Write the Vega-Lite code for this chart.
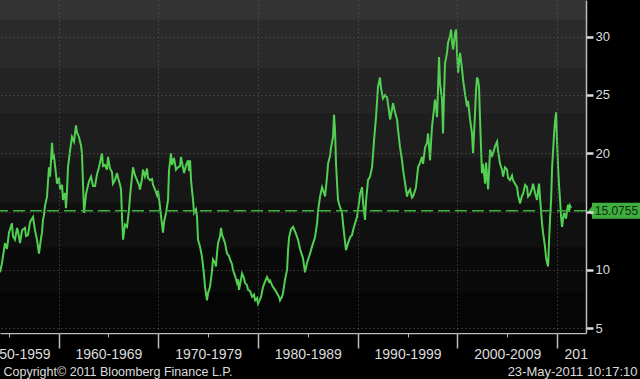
{
  "$schema": "https://vega.github.io/schema/vega-lite/v6.json",
  "width": 586,
  "height": 333,
  "autosize": {"type": "none"},
  "padding": {"left": 0, "top": 0, "right": 54, "bottom": 46},
  "background": "#000000",
  "config": {
    "view": {"stroke": null},
    "font": "Liberation Sans",
    "axis": {"labelFont": "Liberation Sans", "titleFont": "Liberation Sans"}
  },
  "datasets": {
    "one": [{"lab": "15.0755"}],
    "bands": [
      {"b": "b0", "y0": 31.43, "y1": 33.14},
      {"b": "b1", "y0": 27.32, "y1": 31.43},
      {"b": "b2", "y0": 23.46, "y1": 27.32},
      {"b": "b3", "y0": 19.6, "y1": 23.46},
      {"b": "b4", "y0": 15.74, "y1": 19.6},
      {"b": "b5", "y0": 11.9, "y1": 15.74},
      {"b": "b6", "y0": 8.04, "y1": 11.9},
      {"b": "b7", "y0": 4.6, "y1": 8.04}
    ],
    "lab": [
      {"m": 1955}, {"m": 1965}, {"m": 1975}, {"m": 1985}, {"m": 1995}, {"m": 2005}, {"m": 2010.7}
    ],
    "pe": [
      {"t":1954.13,"v":9.8},{"t":1954.33,"v":10.6},{"t":1954.63,"v":12.3},{"t":1954.83,"v":11.8},{"t":1955.03,"v":13.2},
      {"t":1955.33,"v":14.0},{"t":1955.43,"v":12.9},{"t":1955.63,"v":12.6},{"t":1955.84,"v":13.6},{"t":1955.94,"v":13.3},
      {"t":1956.14,"v":12.3},{"t":1956.34,"v":13.4},{"t":1956.64,"v":13.6},{"t":1956.74,"v":12.9},{"t":1956.94,"v":13.0},
      {"t":1957.14,"v":14.1},{"t":1957.44,"v":14.55},{"t":1957.64,"v":13.4},{"t":1957.84,"v":12.6},{"t":1958.04,"v":11.4},
      {"t":1958.24,"v":12.7},{"t":1958.34,"v":13.2},{"t":1958.44,"v":14.3},{"t":1958.54,"v":14.7},{"t":1958.64,"v":15.5},
      {"t":1958.84,"v":16.25},{"t":1959.04,"v":18.8},{"t":1959.15,"v":18.0},{"t":1959.35,"v":20.9},{"t":1959.45,"v":19.5},
      {"t":1959.55,"v":19.7},{"t":1959.75,"v":18.2},{"t":1959.85,"v":17.4},{"t":1960.05,"v":17.9},{"t":1960.15,"v":16.9},
      {"t":1960.35,"v":17.3},{"t":1960.45,"v":16.0},{"t":1960.65,"v":16.6},{"t":1960.75,"v":15.3},{"t":1960.85,"v":16.8},
      {"t":1960.95,"v":18.8},{"t":1961.15,"v":20.2},{"t":1961.35,"v":21.4},{"t":1961.55,"v":21.0},{"t":1961.75,"v":22.4},
      {"t":1961.85,"v":21.8},{"t":1962.05,"v":21.4},{"t":1962.25,"v":20.7},{"t":1962.35,"v":20.0},{"t":1962.45,"v":17.5},
      {"t":1962.56,"v":14.9},{"t":1962.76,"v":16.5},{"t":1962.86,"v":16.9},{"t":1963.06,"v":17.6},{"t":1963.26,"v":18.0},
      {"t":1963.46,"v":17.2},{"t":1963.66,"v":17.2},{"t":1963.86,"v":18.2},{"t":1964.06,"v":18.8},{"t":1964.36,"v":20.0},
      {"t":1964.46,"v":18.9},{"t":1964.66,"v":19.0},{"t":1964.86,"v":18.6},{"t":1964.96,"v":19.7},{"t":1965.16,"v":18.7},
      {"t":1965.36,"v":18.4},{"t":1965.46,"v":17.4},{"t":1965.66,"v":17.7},{"t":1965.87,"v":18.3},{"t":1965.97,"v":17.9},
      {"t":1966.17,"v":17.3},{"t":1966.27,"v":16.9},{"t":1966.37,"v":14.5},{"t":1966.47,"v":12.6},{"t":1966.67,"v":13.9},
      {"t":1966.87,"v":13.7},{"t":1967.07,"v":15.2},{"t":1967.17,"v":16.3},{"t":1967.27,"v":17.2},{"t":1967.47,"v":18.8},
      {"t":1967.67,"v":18.1},{"t":1967.87,"v":17.7},{"t":1968.07,"v":17.3},{"t":1968.17,"v":16.9},{"t":1968.37,"v":17.8},
      {"t":1968.47,"v":18.6},{"t":1968.67,"v":18.0},{"t":1968.87,"v":18.7},{"t":1968.97,"v":17.9},{"t":1969.18,"v":17.7},
      {"t":1969.38,"v":17.8},{"t":1969.48,"v":17.3},{"t":1969.68,"v":16.9},{"t":1969.88,"v":16.4},{"t":1969.98,"v":16.8},
      {"t":1970.18,"v":15.4},{"t":1970.28,"v":14.6},{"t":1970.48,"v":13.2},{"t":1970.58,"v":14.1},{"t":1970.78,"v":14.9},
      {"t":1970.98,"v":16.0},{"t":1971.08,"v":18.5},{"t":1971.28,"v":20.0},{"t":1971.38,"v":19.0},{"t":1971.58,"v":19.6},
      {"t":1971.78,"v":18.6},{"t":1971.98,"v":18.8},{"t":1972.18,"v":18.9},{"t":1972.28,"v":19.7},{"t":1972.48,"v":18.8},
      {"t":1972.59,"v":18.3},{"t":1972.79,"v":19.0},{"t":1972.99,"v":19.4},{"t":1973.09,"v":18.5},{"t":1973.19,"v":19.4},
      {"t":1973.29,"v":17.7},{"t":1973.39,"v":16.8},{"t":1973.49,"v":16.0},{"t":1973.59,"v":14.9},{"t":1973.79,"v":15.2},
      {"t":1973.89,"v":14.55},{"t":1973.99,"v":12.6},{"t":1974.19,"v":12.0},{"t":1974.39,"v":11.1},{"t":1974.59,"v":9.6},
      {"t":1974.69,"v":8.55},{"t":1974.89,"v":7.4},{"t":1974.99,"v":8.0},{"t":1975.19,"v":8.55},{"t":1975.39,"v":9.9},
      {"t":1975.49,"v":10.9},{"t":1975.69,"v":10.6},{"t":1975.79,"v":10.3},{"t":1975.9,"v":11.5},{"t":1976.0,"v":12.3},
      {"t":1976.2,"v":12.9},{"t":1976.3,"v":13.6},{"t":1976.4,"v":13.0},{"t":1976.5,"v":12.8},{"t":1976.7,"v":12.3},
      {"t":1976.9,"v":11.4},{"t":1977.1,"v":11.2},{"t":1977.2,"v":10.9},{"t":1977.4,"v":10.5},{"t":1977.5,"v":10.0},
      {"t":1977.7,"v":9.5},{"t":1977.9,"v":8.9},{"t":1978.0,"v":9.2},{"t":1978.1,"v":8.3},{"t":1978.3,"v":9.2},
      {"t":1978.4,"v":9.7},{"t":1978.6,"v":9.3},{"t":1978.7,"v":8.9},{"t":1978.9,"v":8.7},{"t":1979.0,"v":8.3},
      {"t":1979.21,"v":8.2},{"t":1979.41,"v":7.7},{"t":1979.61,"v":7.9},{"t":1979.71,"v":7.4},{"t":1979.91,"v":7.6},
      {"t":1980.01,"v":7.1},{"t":1980.21,"v":7.5},{"t":1980.31,"v":7.7},{"t":1980.51,"v":8.55},{"t":1980.71,"v":9.0},
      {"t":1980.91,"v":9.4},{"t":1981.11,"v":9.0},{"t":1981.21,"v":9.1},{"t":1981.41,"v":8.7},{"t":1981.51,"v":8.55},
      {"t":1981.71,"v":8.3},{"t":1981.91,"v":8.0},{"t":1982.11,"v":7.7},{"t":1982.21,"v":7.4},{"t":1982.41,"v":7.7},
      {"t":1982.51,"v":8.0},{"t":1982.72,"v":9.2},{"t":1982.92,"v":10.0},{"t":1983.02,"v":11.7},{"t":1983.12,"v":12.8},
      {"t":1983.32,"v":13.5},{"t":1983.52,"v":13.7},{"t":1983.72,"v":13.3},{"t":1984.02,"v":12.6},{"t":1984.22,"v":11.8},
      {"t":1984.52,"v":11.0},{"t":1984.72,"v":9.8},{"t":1984.92,"v":10.6},{"t":1985.22,"v":11.4},{"t":1985.42,"v":12.0},
      {"t":1985.72,"v":12.8},{"t":1985.93,"v":14.0},{"t":1986.03,"v":15.1},{"t":1986.23,"v":16.3},{"t":1986.43,"v":17.1},
      {"t":1986.63,"v":16.6},{"t":1986.73,"v":16.3},{"t":1986.93,"v":18.0},{"t":1987.03,"v":19.1},{"t":1987.23,"v":19.8},
      {"t":1987.33,"v":20.5},{"t":1987.53,"v":21.4},{"t":1987.63,"v":23.3},{"t":1987.73,"v":22.0},{"t":1987.83,"v":19.1},
      {"t":1987.93,"v":17.5},{"t":1988.03,"v":16.0},{"t":1988.23,"v":15.4},{"t":1988.43,"v":14.9},{"t":1988.53,"v":14.0},
      {"t":1988.63,"v":13.2},{"t":1988.83,"v":11.7},{"t":1989.03,"v":12.3},{"t":1989.24,"v":12.8},{"t":1989.44,"v":13.0},
      {"t":1989.54,"v":13.4},{"t":1989.74,"v":14.0},{"t":1989.94,"v":14.55},{"t":1990.14,"v":15.8},{"t":1990.24,"v":16.5},
      {"t":1990.44,"v":17.1},{"t":1990.54,"v":15.8},{"t":1990.74,"v":14.3},{"t":1990.84,"v":15.9},{"t":1991.04,"v":17.7},
      {"t":1991.24,"v":18.0},{"t":1991.44,"v":18.8},{"t":1991.54,"v":19.9},{"t":1991.64,"v":21.1},{"t":1991.84,"v":23.1},
      {"t":1992.04,"v":25.7},{"t":1992.24,"v":26.5},{"t":1992.34,"v":25.6},{"t":1992.54,"v":24.7},{"t":1992.75,"v":25.0},
      {"t":1992.95,"v":24.8},{"t":1993.15,"v":23.6},{"t":1993.25,"v":22.9},{"t":1993.45,"v":23.8},{"t":1993.55,"v":24.3},
      {"t":1993.75,"v":23.5},{"t":1993.95,"v":22.9},{"t":1994.05,"v":22.0},{"t":1994.25,"v":20.5},{"t":1994.45,"v":19.4},
      {"t":1994.55,"v":18.6},{"t":1994.75,"v":17.5},{"t":1994.95,"v":16.3},{"t":1995.05,"v":16.6},{"t":1995.25,"v":16.9},
      {"t":1995.45,"v":16.2},{"t":1995.55,"v":16.3},{"t":1995.75,"v":16.8},{"t":1995.85,"v":17.1},{"t":1995.96,"v":18.0},
      {"t":1996.06,"v":18.8},{"t":1996.26,"v":19.2},{"t":1996.46,"v":19.7},{"t":1996.56,"v":19.1},{"t":1996.76,"v":20.5},
      {"t":1996.96,"v":20.9},{"t":1997.06,"v":21.7},{"t":1997.26,"v":19.4},{"t":1997.36,"v":21.0},{"t":1997.46,"v":22.3},
      {"t":1997.66,"v":23.8},{"t":1997.76,"v":24.6},{"t":1997.86,"v":24.0},{"t":1997.96,"v":23.1},{"t":1998.06,"v":25.5},
      {"t":1998.16,"v":28.25},{"t":1998.26,"v":26.0},{"t":1998.46,"v":24.6},{"t":1998.56,"v":21.7},{"t":1998.66,"v":25.0},
      {"t":1998.76,"v":27.7},{"t":1998.96,"v":28.6},{"t":1999.06,"v":29.45},{"t":1999.27,"v":30.1},{"t":1999.37,"v":30.6},
      {"t":1999.47,"v":29.5},{"t":1999.57,"v":28.9},{"t":1999.77,"v":30.3},{"t":1999.87,"v":30.6},{"t":1999.97,"v":28.5},
      {"t":2000.07,"v":26.9},{"t":2000.17,"v":27.8},{"t":2000.27,"v":28.6},{"t":2000.47,"v":27.2},{"t":2000.57,"v":26.3},
      {"t":2000.77,"v":25.1},{"t":2000.97,"v":24.0},{"t":2001.07,"v":24.5},{"t":2001.27,"v":22.9},{"t":2001.47,"v":21.7},
      {"t":2001.57,"v":20.0},{"t":2001.77,"v":23.4},{"t":2001.87,"v":25.4},{"t":2001.97,"v":26.5},{"t":2002.07,"v":26.3},
      {"t":2002.17,"v":25.7},{"t":2002.27,"v":23.0},{"t":2002.37,"v":20.5},{"t":2002.47,"v":18.3},{"t":2002.57,"v":19.1},
      {"t":2002.78,"v":17.4},{"t":2002.88,"v":19.2},{"t":2003.08,"v":16.9},{"t":2003.18,"v":18.5},{"t":2003.28,"v":20.3},
      {"t":2003.48,"v":19.8},{"t":2003.58,"v":20.0},{"t":2003.78,"v":20.6},{"t":2003.98,"v":21.0},{"t":2004.08,"v":20.2},
      {"t":2004.28,"v":19.1},{"t":2004.48,"v":18.6},{"t":2004.58,"v":18.0},{"t":2004.78,"v":18.8},{"t":2004.98,"v":18.6},
      {"t":2005.08,"v":17.9},{"t":2005.28,"v":17.7},{"t":2005.48,"v":18.1},{"t":2005.58,"v":17.7},{"t":2005.78,"v":17.4},
      {"t":2005.99,"v":17.1},{"t":2006.09,"v":16.4},{"t":2006.29,"v":15.7},{"t":2006.49,"v":16.4},{"t":2006.59,"v":16.5},
      {"t":2006.79,"v":17.3},{"t":2006.99,"v":17.1},{"t":2007.09,"v":16.3},{"t":2007.29,"v":16.5},{"t":2007.49,"v":17.0},
      {"t":2007.59,"v":17.4},{"t":2007.79,"v":16.6},{"t":2007.99,"v":16.0},{"t":2008.09,"v":16.8},{"t":2008.19,"v":17.4},
      {"t":2008.29,"v":16.2},{"t":2008.39,"v":15.1},{"t":2008.49,"v":14.0},{"t":2008.59,"v":13.2},{"t":2008.79,"v":12.0},
      {"t":2008.89,"v":11.1},{"t":2009.0,"v":10.6},{"t":2009.1,"v":10.3},{"t":2009.2,"v":12.6},{"t":2009.3,"v":14.5},
      {"t":2009.4,"v":16.0},{"t":2009.5,"v":18.8},{"t":2009.6,"v":20.2},{"t":2009.7,"v":21.7},{"t":2009.8,"v":22.8},
      {"t":2009.9,"v":23.5},{"t":2010.0,"v":21.0},{"t":2010.1,"v":18.8},{"t":2010.2,"v":17.2},{"t":2010.3,"v":16.0},
      {"t":2010.4,"v":14.6},{"t":2010.5,"v":13.7},{"t":2010.6,"v":14.4},{"t":2010.7,"v":14.9},{"t":2010.9,"v":14.4},
      {"t":2011.0,"v":15.1},{"t":2011.1,"v":15.6},{"t":2011.2,"v":15.0},{"t":2011.3,"v":15.5},{"t":2011.4,"v":15.3}
    ]
  },
  "layer": [
    {
      "layer": [
        {
          "data": {"name": "bands"},
          "mark": {"type": "rect"},
          "encoding": {
            "y": {"field": "y0", "type": "quantitative", "scale": {"domain": [4.6, 33.14], "nice": false, "zero": false}, "title": null},
            "y2": {"field": "y1"},
            "color": {"field": "b", "type": "nominal", "legend": null,
              "scale": {"domain": ["b0","b1","b2","b3","b4","b5","b6","b7"],
                        "range": ["#333333","#2a2a2a","#242424","#1e1e1e","#171717","#101010","#0a0a0a","#050505"]}}
          }
        },
        {
          "data": {"name": "pe"},
          "mark": {"type": "line", "color": "#52d052", "strokeWidth": 2},
          "encoding": {
            "x": {"field": "t", "type": "quantitative",
              "scale": {"domain": [1954.13, 2012.9], "nice": false, "zero": false},
              "axis": {"orient": "bottom", "values": [1960,1970,1980,1990,2000,2010], "grid": true, "gridColor": "#5a5a5a", "gridDash": [1,3], "labels": false, "ticks": false, "domain": false, "title": null, "zindex": 1}},
            "y": {"field": "v", "type": "quantitative",
              "scale": {"domain": [4.6, 33.14], "nice": false, "zero": false},
              "axis": {
                "orient": "right", "title": null, "zindex": 1,
                "values": [5,7.5,10,12.5,15,17.5,20,22.5,25,27.5,30,32.5],
                "domain": true, "domainColor": "#bdbdbd", "domainWidth": 1.5,
                "tickColor": "#dddddd",
                "tickSize": {"condition": {"test": "datum.value % 5 === 0", "value": 7}, "value": 4},
                "tickWidth": {"condition": {"test": "datum.value % 5 === 0", "value": 2.5}, "value": 1},
                "labelExpr": "datum.value % 5 === 0 && datum.value !== 15 ? datum.label : ''",
                "labelColor": "#dddddd", "labelFontSize": 13, "labelPadding": 2, "labelBaseline": "middle",
                "labelOverlap": false,
                "grid": true, "gridColor": "#5a5a5a", "gridDash": [1,3],
                "gridOpacity": {"condition": {"test": "datum.value % 5 === 0", "value": 1}, "value": 0}
              }}
          }
        },
        {
          "data": {"name": "one"},
          "mark": {"type": "rule", "color": "#3db53d", "strokeWidth": 1.5, "strokeDash": [12,5]},
          "encoding": {"y": {"datum": 15.0755}}
        },
        {
          "data": {"name": "one"},
          "mark": {"type": "rect", "color": "#3fb03f", "clip": false},
          "encoding": {
            "x": {"datum": 2013.5}, "x2": {"datum": 2018.4},
            "y": {"datum": 14.39}, "y2": {"datum": 15.76}
          }
        },
        {
          "data": {"name": "one"},
          "mark": {"type": "point", "shape": "M0.6,-1L0.6,1L-0.3,0Z", "filled": true, "color": "#3fb03f", "opacity": 1, "size": 256, "clip": false},
          "encoding": {"x": {"datum": 2013.35}, "y": {"datum": 15.0755}}
        },
        {
          "data": {"name": "one"},
          "mark": {"type": "text", "color": "#0f2a0f", "fontSize": 12, "font": "Liberation Sans", "align": "center", "baseline": "middle", "clip": false},
          "encoding": {"x": {"datum": 2015.95}, "y": {"datum": 15.0755}, "text": {"field": "lab"}}
        }
      ]
    },
    {
      "data": {"name": "lab"},
      "mark": {"type": "point", "opacity": 0},
      "encoding": {
        "x": {"field": "m", "type": "quantitative",
          "scale": {"domain": [1954.13, 2012.9], "nice": false, "zero": false},
          "axis": {
            "orient": "bottom", "values": [1955,1955.8,1965,1975,1985,1995,2005,2010.7],
            "labelExpr": "datum.value > 2010 ? '201' : datum.value === 1955 ? '' : datum.value === 1955.8 ? '1950-1959' : (datum.value - 5) + '-' + (datum.value + 4)",
            "labelAlign": {"condition": {"test": "datum.value > 2010", "value": "left"}, "value": "center"},
            "labelFlush": false, "labelOverlap": false, "labelBound": false,
            "labelColor": "#dddddd", "labelFontSize": 14, "labelBaseline": "middle", "labelPadding": 17,
            "domain": true, "domainColor": "#bdbdbd", "domainWidth": 1.5,
            "ticks": true, "tickSize": 4, "tickColor": "#bdbdbd", "tickWidth": 1,
            "tickOpacity": {"condition": {"test": "datum.value > 2010 || datum.value === 1955.8", "value": 0}, "value": 1},
            "grid": false,
            "title": "Copyright© 2011 Bloomberg Finance L.P.",
            "titleX": 3, "titleY": 38, "titleAlign": "left", "titleBaseline": "middle",
            "titleColor": "#dddddd", "titleFontSize": 12.5, "titleFontWeight": "normal"
          }}
      }
    },
    {
      "data": {"name": "lab"},
      "mark": {"type": "point", "opacity": 0},
      "encoding": {
        "x": {"field": "m", "type": "quantitative",
          "scale": {"domain": [1954.13, 2012.9], "nice": false, "zero": false},
          "axis": {
            "orient": "bottom", "values": [1960,1970,1980,1990,2000,2010],
            "labels": false, "domain": false, "grid": false,
            "ticks": true, "tickSize": 15, "tickColor": "#bdbdbd", "tickWidth": 1.5,
            "title": "23-May-2011 10:17:10",
            "titleX": 637, "titleY": 38, "titleAlign": "right", "titleBaseline": "middle",
            "titleColor": "#dddddd", "titleFontSize": 13, "titleFontWeight": "normal"
          }}
      }
    }
  ],
  "resolve": {"scale": {"x": "independent"}, "axis": {"x": "independent"}}
}
